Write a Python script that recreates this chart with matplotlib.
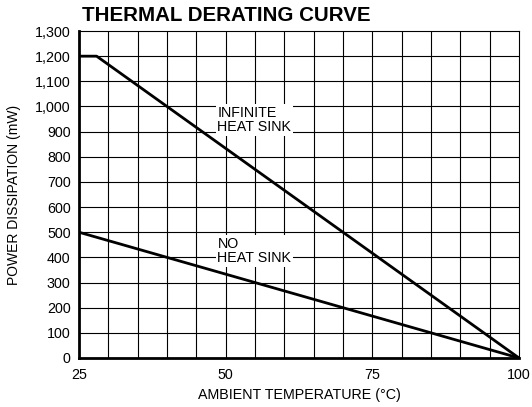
import numpy as np
import matplotlib.pyplot as plt

plt.rcParams['font.family'] = ['Liberation Sans', 'DejaVu Sans']

# data
inf_temp = [25, 28, 100]
inf_power = [1200, 1200, 0]
no_temp = [25, 100]
no_power = [500, 0]
x_ticks = [25, 50, 75, 100]
y_ticks = list(range(0, 1301, 100))

fig = plt.figure(figsize=(5.32, 4.07), dpi=100)
ax = fig.add_axes([0.1485, 0.1204, 0.8271, 0.8034])

ax.set_xlim(25, 100)
ax.set_ylim(0, 1300)

for xv in range(30, 100, 5):
    ax.axvline(xv, color='black', lw=0.8, zorder=1)
for yv in range(100, 1300, 100):
    ax.axhline(yv, color='black', lw=0.8, zorder=1)

ax.plot(inf_temp, inf_power, color='black', lw=2, zorder=3, solid_capstyle='butt')
ax.plot(no_temp, no_power, color='black', lw=2, zorder=3, solid_capstyle='butt')

box = dict(facecolor='white', edgecolor='none', pad=1.0)
ax.text(48.6, 946, 'INFINITE\nHEAT SINK', fontsize=10.3, ha='left', va='center',
        linespacing=1.05, bbox=box, zorder=2)
ax.text(48.6, 425, 'NO\nHEAT SINK', fontsize=10.3, ha='left', va='center',
        linespacing=1.05, bbox=box, zorder=2)

ax.set_xticks(x_ticks)
ax.set_xticklabels([str(v) for v in x_ticks], fontsize=10.3)
ax.set_yticks(y_ticks)
ax.set_yticklabels([f'{v:,}' for v in y_ticks], fontsize=10.3)
ax.tick_params(axis='x', length=0, pad=7)
ax.tick_params(axis='y', length=0, pad=6)

for side in ['left', 'bottom']:
    ax.spines[side].set_linewidth(2)
for side in ['top', 'right']:
    ax.spines[side].set_linewidth(0.8)

ax.set_xlabel('AMBIENT TEMPERATURE (°C)', fontsize=10.3)
ax.set_ylabel('POWER DISSIPATION (mW)', fontsize=10)
ax.xaxis.set_label_coords(0.5, -0.092)
ax.yaxis.set_label_coords(-0.132, 0.5)

fig.text(0.154, 0.962, 'THERMAL DERATING CURVE', fontsize=14.8, fontweight='bold',
         ha='left', va='center')

fig.savefig('out.png', dpi=100)
